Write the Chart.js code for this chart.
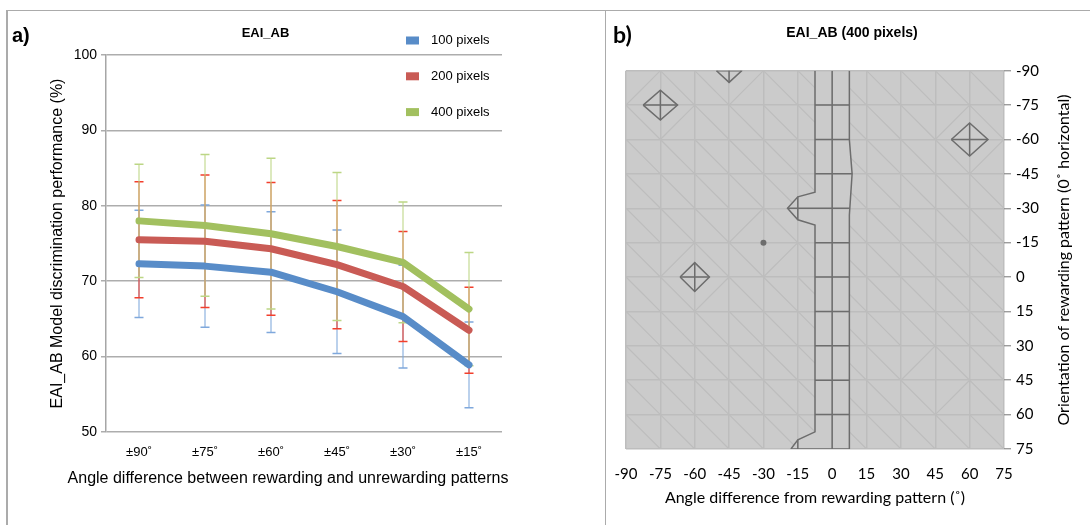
<!DOCTYPE html>
<html lang="en">
<head>
<meta charset="utf-8">
<title>EAI_AB</title>
<script src="https://cdn.jsdelivr.net/npm/chart.js@4/dist/chart.umd.min.js"></script>
<style>
  html, body { margin: 0; padding: 0; background: #fff; }
  body { position: relative; width: 1090px; height: 525px; overflow: hidden; }
  canvas { position: absolute; top: 0; }
  #panelA { left: 0; }
  #panelB { left: 606px; }
  .rule { position: absolute; background: #ababab; }
</style>
</head>
<body>
<canvas id="panelA" width="605" height="525"></canvas>
<canvas id="panelB" width="484" height="525"></canvas>
<div class="rule" style="left:6px; top:9.5px; width:1084px; height:1.5px;"></div>
<div class="rule" style="left:6px; top:9.5px; width:1.5px; height:516px;"></div>
<div class="rule" style="left:604.5px; top:9.5px; width:1.5px; height:516px;"></div>
<script>
Chart.defaults.font.family = "'Liberation Sans', Arial, sans-serif";
Chart.defaults.color = '#000';

// ---------- panel a: discrimination performance by angle difference ----------
const angleLabels = ['±90˚', '±75˚', '±60˚', '±45˚', '±30˚', '±15˚'];
const seriesNames = ['100 pixels', '200 pixels', '400 pixels'];
const perf100 = [72.3, 72.0, 71.2, 68.6, 65.3, 58.9];
const perf200 = [75.5, 75.3, 74.3, 72.2, 69.3, 63.5];
const perf400 = [78.0, 77.4, 76.3, 74.6, 72.5, 66.3];
// half-length of each error bar
const sd100 = [7.1, 8.1, 8.0, 8.2, 6.8, 5.7];
const sd200 = [7.7, 8.8, 8.8, 8.5, 7.3, 5.7];
const sd400 = [7.5, 9.4, 10.0, 9.8, 8.0, 7.5];
const perfTicks = [50, 60, 70, 80, 90, 100];

// ---------- panel b: contour map of the 400-pixel model ----------
const angleTicks = [-90, -75, -60, -45, -30, -15, 0, 15, 30, 45, 60, 75];
// edges of the central high band (x: angle difference, y: orientation)
const bandLeft = [
  {x: -7.5, y: -90}, {x: -7.5, y: -37}, {x: -15, y: -35}, {x: -19.5, y: -30},
  {x: -15, y: -25}, {x: -7.5, y: -22.7}, {x: -7.5, y: 67.5}, {x: -15, y: 71}, {x: -18, y: 75}
];
const bandRight = [
  {x: 7.5, y: -90}, {x: 7.5, y: -60}, {x: 8.7, y: -45}, {x: 7.5, y: -27}, {x: 7.5, y: 75}
];
const bandMid = [{x: 0, y: -90}, {x: 0, y: 75}];
const bandRows = [-75, -60, -45, -30, -15, 0, 15, 30, 45, 60, 75];
const bandCols = [{x: -15, from: -35, to: -25}, {x: -15, from: 71, to: 75}];
// small closed contours around isolated peaks
const peaks = [
  {x: -75, y: -75, rx: 7.5, ry: 6.5},
  {x: 60, y: -60, rx: 8.0, ry: 7.2},
  {x: -60, y: 0, rx: 6.4, ry: 6.3},
  {x: -45, y: -90, rx: 5.5, ry: 5.1}
];
const pits = [{x: -30, y: -15}];
// mesh vertices around which the surface facets turn
const facetPivots = [[-75, -75], [60, -60], [-60, 0], [-45, -90], [-30, -15], [45, 45]];

// ---------- shared helpers ----------
function makeCaptions(items) {
  return {
    id: 'captions',
    afterDraw(chart) {
      const ctx = chart.ctx;
      items.forEach(it => {
        ctx.save();
        ctx.font = it.font;
        ctx.fillStyle = '#000';
        ctx.textAlign = it.align || 'center';
        ctx.textBaseline = 'middle';
        ctx.translate(it.x, it.y);
        if (it.rotate) ctx.rotate(it.rotate);
        ctx.fillText(it.text, 0, 0);
        ctx.restore();
      });
    }
  };
}

// ---------- panel a ----------
const errorBars = {
  id: 'errorBars',
  beforeDatasetsDraw(chart) {
    const {ctx, scales: {x, y}} = chart;
    ctx.save();
    ctx.lineWidth = 1.5;
    chart.data.datasets.forEach(ds => {
      ds.errors.forEach((e, j) => {
        const px = x.getPixelForValue(j);
        const hi = y.getPixelForValue(ds.data[j] + e);
        const lo = y.getPixelForValue(ds.data[j] - e);
        ctx.strokeStyle = ds.errorColor;
        ctx.globalAlpha = 0.7;
        ctx.beginPath();
        ctx.moveTo(px, hi); ctx.lineTo(px, lo);
        ctx.stroke();
        ctx.globalAlpha = 1;
        ctx.beginPath();
        ctx.moveTo(px - 4.5, hi); ctx.lineTo(px + 4.5, hi);
        ctx.moveTo(px - 4.5, lo); ctx.lineTo(px + 4.5, lo);
        ctx.stroke();
      });
    });
    ctx.restore();
  }
};

const stackedLegend = {
  id: 'stackedLegend',
  afterDraw(chart) {
    const ctx = chart.ctx;
    ctx.save();
    ctx.font = "13px 'Liberation Sans', Arial, sans-serif";
    ctx.textBaseline = 'middle';
    ctx.textAlign = 'left';
    chart.data.datasets.forEach((ds, i) => {
      const cy = 40.5 + i * 35.8;
      ctx.fillStyle = ds.borderColor;
      ctx.fillRect(406, cy - 4, 13, 8);
      ctx.fillStyle = '#000';
      ctx.fillText(ds.label, 431, cy);
    });
    ctx.restore();
  }
};

const lineStyle = {borderWidth: 7, pointRadius: 0, tension: 0, borderCapStyle: 'round', borderJoinStyle: 'round', fill: false};

new Chart(document.getElementById('panelA'), {
  type: 'line',
  data: {
    labels: angleLabels,
    datasets: [
      {label: seriesNames[0], data: perf100, errors: sd100, borderColor: '#588cc8', errorColor: '#7fa8dc', ...lineStyle},
      {label: seriesNames[1], data: perf200, errors: sd200, borderColor: '#c95b55', errorColor: '#f23f2c', ...lineStyle},
      {label: seriesNames[2], data: perf400, errors: sd400, borderColor: '#a2c05f', errorColor: '#bcd685', ...lineStyle}
    ]
  },
  options: {
    responsive: false,
    animation: false,
    events: [],
    layout: {padding: {left: 0, right: 103, top: 55, bottom: 0}},
    plugins: {legend: {display: false}, title: {display: false}, tooltip: {enabled: false}},
    scales: {
      x: {
        offset: true,
        grid: {display: false, drawTicks: false},
        border: {display: false},
        ticks: {padding: 13, font: {size: 13}},
        title: {display: false},
        afterFit(s) { s.height = 93; }
      },
      y: {
        min: perfTicks[0],
        max: perfTicks[perfTicks.length - 1],
        ticks: {stepSize: perfTicks[1] - perfTicks[0], padding: 4, font: {size: 14}},
        grid: {color: '#adadad', lineWidth: 1.5, tickLength: 5, drawTicks: true},
        border: {display: true, color: '#a6a6a6', width: 1.5},
        title: {
          display: true,
          text: 'EAI_AB Model discrimination performance (%)',
          font: {size: 16},
          padding: {top: 48.4, bottom: 0}
        },
        afterFit(s) { s.width = 106; }
      }
    }
  },
  plugins: [errorBars, stackedLegend, makeCaptions([
    {text: 'a)', x: 12, y: 36, align: 'left', font: "bold 20px 'Liberation Sans', Arial, sans-serif"},
    {text: 'EAI_AB', x: 265.5, y: 33, font: "bold 13px 'Liberation Sans', Arial, sans-serif"},
    {text: 'Angle difference between rewarding and unrewarding patterns', x: 288, y: 479, font: "16px 'Liberation Sans', Arial, sans-serif"}
  ])]
});

// ---------- panel b ----------
function xAtY(poly, yv) {
  for (let i = 0; i < poly.length - 1; i++) {
    const a = poly[i], b = poly[i + 1];
    if ((yv - a.y) * (yv - b.y) <= 0 && a.y !== b.y) {
      return a.x + (b.x - a.x) * (yv - a.y) / (b.y - a.y);
    }
  }
  return poly[poly.length - 1].x;
}

const contourStyle = {type: 'scatter', showLine: true, pointRadius: 0, borderColor: '#6d6d6d', backgroundColor: '#6d6d6d', borderWidth: 1.5, fill: false};

const contourSets = [
  {data: bandLeft}, {data: bandRight}, {data: bandMid},
  ...bandRows.map(r => ({data: [{x: xAtY(bandLeft, r), y: r}, {x: xAtY(bandRight, r), y: r}]})),
  ...bandCols.map(c => ({data: [{x: c.x, y: c.from}, {x: c.x, y: c.to}]})),
  ...peaks.flatMap(p => [
    {data: [{x: p.x - p.rx, y: p.y}, {x: p.x, y: p.y - p.ry}, {x: p.x + p.rx, y: p.y}, {x: p.x, y: p.y + p.ry}, {x: p.x - p.rx, y: p.y}]},
    {data: [{x: p.x - p.rx, y: p.y}, {x: p.x + p.rx, y: p.y}]},
    {data: [{x: p.x, y: p.y - p.ry}, {x: p.x, y: p.y + p.ry}]}
  ])
].map(d => ({...contourStyle, ...d}));

const surfaceFill = {
  id: 'surfaceFill',
  beforeDraw(chart) {
    const {ctx, chartArea: a} = chart;
    ctx.save();
    ctx.fillStyle = '#cbcbcb';
    ctx.fillRect(a.left, a.top, a.width, a.height);
    ctx.restore();
  }
};

const surfaceFacets = {
  id: 'surfaceFacets',
  beforeDatasetsDraw(chart) {
    const {ctx, chartArea: a, scales: {x, y}} = chart;
    const gx = x.ticks.map(t => t.value);
    const gy = y.ticks.map(t => t.value).sort((m, n) => m - n);
    ctx.save();
    // facets are not drawn inside the central band
    ctx.beginPath();
    ctx.rect(a.left, a.top, a.width, a.height);
    bandLeft.concat(bandRight.slice().reverse()).forEach((p, i) => {
      const px = x.getPixelForValue(p.x), py = y.getPixelForValue(p.y);
      if (i) ctx.lineTo(px, py); else ctx.moveTo(px, py);
    });
    ctx.closePath();
    ctx.clip('evenodd');
    ctx.strokeStyle = '#bdbdbd';
    ctx.lineWidth = 1.2;
    ctx.beginPath();
    for (let i = 0; i < gx.length - 1; i++) {
      for (let j = 0; j < gy.length - 1; j++) {
        const x0 = gx[i], x1 = gx[i + 1], y0 = gy[j], y1 = gy[j + 1];
        const turn = facetPivots.some(([px, py]) => (px === x0 && py === y0) || (px === x1 && py === y1));
        if (turn) {
          ctx.moveTo(x.getPixelForValue(x0), y.getPixelForValue(y1));
          ctx.lineTo(x.getPixelForValue(x1), y.getPixelForValue(y0));
        } else {
          ctx.moveTo(x.getPixelForValue(x0), y.getPixelForValue(y0));
          ctx.lineTo(x.getPixelForValue(x1), y.getPixelForValue(y1));
        }
      }
    }
    ctx.stroke();
    ctx.restore();
  }
};

const latoTicks = {family: "Lato, 'Open Sans', sans-serif", size: 15};

new Chart(document.getElementById('panelB'), {
  type: 'scatter',
  data: {
    datasets: [
      ...contourSets,
      {data: pits, showLine: false, pointRadius: 3, pointBorderWidth: 0, backgroundColor: '#6d6d6d', borderColor: '#6d6d6d'}
    ]
  },
  options: {
    responsive: false,
    animation: false,
    events: [],
    layout: {padding: {left: 20, right: 0, top: 70.7, bottom: 0}},
    plugins: {legend: {display: false}, title: {display: false}, tooltip: {enabled: false}},
    scales: {
      x: {
        type: 'linear',
        min: angleTicks[0],
        max: angleTicks[angleTicks.length - 1],
        ticks: {stepSize: angleTicks[1] - angleTicks[0], padding: 0, font: latoTicks},
        grid: {color: '#bdbdbd', lineWidth: 1.5, drawTicks: true, tickLength: 16, tickColor: 'rgba(0,0,0,0)'},
        border: {display: false},
        title: {
          display: true,
          text: 'Angle difference from rewarding pattern (˚)',
          font: {family: "Lato, 'Open Sans', sans-serif", size: 16},
          padding: {top: 0, bottom: 17.4}
        },
        afterFit(s) { s.height = 76; }
      },
      y: {
        type: 'linear',
        position: 'right',
        reverse: true,
        min: angleTicks[0],
        max: angleTicks[angleTicks.length - 1],
        ticks: {stepSize: angleTicks[1] - angleTicks[0], padding: 5, font: latoTicks},
        grid: {color: '#bdbdbd', lineWidth: 1.5, tickLength: 7, tickColor: '#8c8c8c', tickWidth: 1.2},
        border: {display: false},
        afterFit(s) { s.width = 86; }
      }
    }
  },
  plugins: [surfaceFill, surfaceFacets, makeCaptions([
    {text: 'b)', x: 7, y: 35.5, align: 'left', font: "bold 23px Lato, 'Open Sans', sans-serif"},
    {text: 'EAI_AB (400 pixels)', x: 246, y: 33.5, font: "bold 14px 'Liberation Sans', Arial, sans-serif"},
    {text: 'Orientation of rewarding pattern (0˚ horizontal)', x: 457.5, y: 260, rotate: -Math.PI / 2, font: "16px Lato, 'Open Sans', sans-serif"}
  ])]
});
</script>
</body>
</html>
